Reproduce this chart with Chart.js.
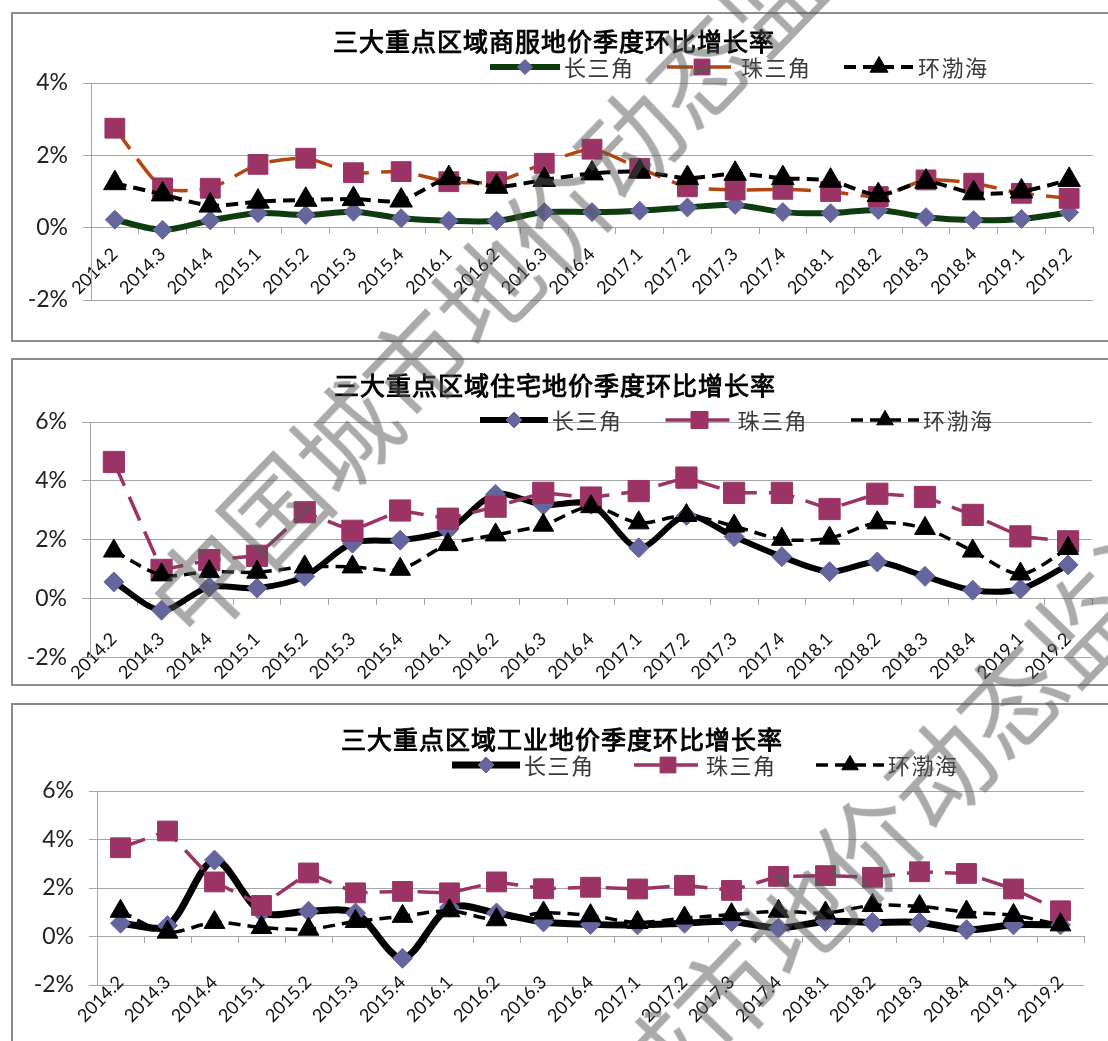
<!DOCTYPE html>
<html>
<head>
<meta charset="utf-8">
<script src="https://cdn.jsdelivr.net/npm/chart.js@4/dist/chart.umd.min.js"></script>
<style>
  html, body { margin: 0; padding: 0; background: #fff; }
  body { position: relative; width: 1108px; height: 1041px; overflow: hidden; }
  .frame { position: absolute; left: 11px; width: 1120px; box-sizing: border-box; border: 2px solid #8c8c8c; background: #fff; }
  canvas { position: absolute; left: 0; }
  .wm { position: absolute; transform-origin: 0 50%; transform: rotate(-46deg);
        font-family: "Noto Sans CJK SC"; font-size: 102px; line-height: 102px; height: 102px;
        white-space: nowrap; color: rgba(85, 85, 85, 0.5); pointer-events: none; }
</style>
</head>
<body>
<div class="frame" style="top:12px;height:330px"></div>
<div class="frame" style="top:358px;height:328px"></div>
<div class="frame" style="top:703px;height:400px"></div>
<canvas id="cCommercial" width="1108" height="330" style="top:12px"></canvas>
<canvas id="cResidential" width="1108" height="328" style="top:358px"></canvas>
<canvas id="cIndustrial" width="1108" height="338" style="top:703px"></canvas>
<div class="wm" style="left:165px;top:566px">中国城市地价动态监测</div>
<div class="wm" style="left:476px;top:1196px">中国城市地价动态监测</div>
<script>
// Quarters on the category axis
const quarters = ['2014.2','2014.3','2014.4','2015.1','2015.2','2015.3','2015.4',
  '2016.1','2016.2','2016.3','2016.4','2017.1','2017.2','2017.3','2017.4',
  '2018.1','2018.2','2018.3','2018.4','2019.1','2019.2'];
const regionNames = ['长三角', '珠三角', '环渤海'];

// 商服 (commercial) quarter-on-quarter growth, %
const commercialYRD   = [0.22,-0.06,0.20,0.40,0.35,0.44,0.26,0.19,0.19,0.43,0.43,0.47,0.56,0.63,0.43,0.40,0.49,0.29,0.21,0.24,0.42];
const commercialPRD   = [2.75,1.10,1.09,1.75,1.92,1.52,1.55,1.27,1.27,1.78,2.17,1.64,1.13,1.04,1.06,1.00,0.86,1.32,1.23,0.95,0.81];
const commercialBohai = [1.23,0.92,0.61,0.72,0.77,0.79,0.75,1.37,1.13,1.32,1.50,1.55,1.37,1.49,1.37,1.30,0.90,1.27,0.95,1.00,1.32];

// 住宅 (residential)
const residentialYRD   = [0.56,-0.40,0.39,0.35,0.75,1.88,1.98,2.32,3.54,3.18,3.20,1.72,2.82,2.10,1.42,0.91,1.24,0.75,0.28,0.32,1.14];
const residentialPRD   = [4.64,0.97,1.30,1.45,2.93,2.30,2.99,2.71,3.12,3.59,3.43,3.65,4.11,3.59,3.59,3.04,3.56,3.45,2.84,2.11,1.94];
const residentialBohai = [1.61,0.80,0.91,0.89,1.07,1.07,0.99,1.83,2.16,2.49,3.12,2.57,2.82,2.46,2.01,2.05,2.57,2.38,1.61,0.83,1.70];

// 工业 (industrial)
const industrialYRD   = [0.55,0.45,3.15,1.00,1.04,0.97,-0.90,1.20,0.97,0.60,0.50,0.48,0.55,0.62,0.35,0.62,0.58,0.58,0.28,0.48,0.48];
const industrialPRD   = [3.66,4.35,2.25,1.28,2.62,1.80,1.86,1.80,2.25,1.97,2.03,1.96,2.11,1.90,2.48,2.51,2.44,2.67,2.60,1.96,1.06];
const industrialBohai = [1.04,0.18,0.58,0.37,0.30,0.62,0.83,1.06,0.69,0.97,0.86,0.58,0.76,0.90,1.04,0.97,1.28,1.24,1.01,0.87,0.48];

// Value-axis ticks (%)
const commercialTicks = [-2, 0, 2, 4];
const landTicks = [-2, 0, 2, 4, 6];

const GRID = '#a6a6a6';
const SQUARE_FILL = '#9b3465';
const DIAMOND_FILL = '#66669f';

// Title and series key drawn inside each panel
const panelText = {
  id: 'panelText',
  afterDraw(chart, args, o) {
    const ctx = chart.ctx;
    ctx.save();
    ctx.fillStyle = '#000';
    ctx.strokeStyle = '#000';
    ctx.lineWidth = 0.9;
    ctx.font = '25px "Noto Sans CJK SC"';
    ctx.textAlign = 'center';
    ctx.textBaseline = 'middle';
    ctx.letterSpacing = '1px';
    ctx.fillText(o.title, o.titleX, o.titleY);
    ctx.strokeText(o.title, o.titleX, o.titleY);
    ctx.font = '22px "Noto Sans CJK SC"';
    ctx.letterSpacing = '1.5px';
    chart.data.datasets.forEach((ds, i) => {
      const x0 = o.keyX + i * o.keyPitch;
      const y = o.keyY;
      ctx.save();
      ctx.strokeStyle = ds.borderColor;
      ctx.lineWidth = ds.borderWidth;
      ctx.lineCap = ds.borderCapStyle || 'butt';
      ctx.setLineDash(ds.borderDash || []);
      ctx.beginPath();
      ctx.moveTo(x0, y);
      ctx.lineTo(x0 + o.keyLen, y);
      ctx.stroke();
      ctx.setLineDash([]);
      ctx.fillStyle = ds.pointBackgroundColor;
      ctx.strokeStyle = ds.pointBorderColor;
      ctx.lineWidth = 1;
      Chart.helpers.drawPoint(ctx, {
        pointStyle: ds.pointStyle, radius: ds.pointRadius * 0.8, rotation: 0, borderWidth: 1
      }, x0 + o.keyLen / 2, y);
      ctx.restore();
      ctx.fillStyle = '#3a3a3a';
      ctx.textAlign = 'left';
      ctx.fillText(ds.label, x0 + o.keyLen + 4, y + 1);
    });
    ctx.restore();
  }
};

function makeSeries(values, style) {
  return Object.assign({
    data: values,
    fill: false,
    pointBorderWidth: 1,
    pointHoverRadius: 0
  }, style);
}

function buildChart(id, cfg) {
  return new Chart(document.getElementById(id), {
    type: 'line',
    data: {
      labels: quarters,
      datasets: [
        makeSeries(cfg.yrd, Object.assign({ label: regionNames[0], order: 3 }, cfg.yrdStyle)),
        makeSeries(cfg.prd, Object.assign({ label: regionNames[1], order: 2 }, cfg.prdStyle)),
        makeSeries(cfg.bohai, Object.assign({ label: regionNames[2], order: 1 }, cfg.bohaiStyle))
      ]
    },
    options: {
      responsive: false,
      animation: false,
      events: [],
      layout: { padding: { top: cfg.plotTop, bottom: cfg.plotBottom, left: 0, right: cfg.plotRight } },
      plugins: {
        legend: { display: false },
        tooltip: { enabled: false },
        title: { display: false },
        panelText: cfg.text
      },
      scales: {
        x: {
          type: 'category',
          position: { y: 0 },
          offset: true,
          grid: { offset: true, drawOnChartArea: false, drawTicks: true, tickLength: 6, color: GRID, lineWidth: 1 },
          border: { display: true, color: GRID, width: 1 },
          ticks: {
            autoSkip: false, maxRotation: 45, minRotation: 45, padding: cfg.labelPad,
            color: '#111', font: { family: 'Lato', size: 18 }
          }
        },
        y: {
          position: 'left',
          min: cfg.ticks[0],
          max: cfg.ticks[cfg.ticks.length - 1],
          afterBuildTicks(scale) { scale.ticks = cfg.ticks.map(v => ({ value: v })); },
          afterFit(scale) { scale.width = cfg.plotLeft; },
          grid: { color: GRID, lineWidth: 1, tickLength: 8 },
          border: { display: true, color: GRID, width: 1 },
          ticks: {
            padding: 15, color: '#222', font: { family: 'Lato', size: 23 },
            callback: v => v + '%'
          }
        }
      }
    },
    plugins: [panelText]
  });
}

buildChart('cCommercial', {
  yrd: commercialYRD, prd: commercialPRD, bohai: commercialBohai, ticks: commercialTicks,
  plotLeft: 91, plotRight: 6, plotTop: 71, plotBottom: 42, labelPad: 10,
  text: { title: '三大重点区域商服地价季度环比增长率', titleX: 554, titleY: 29,
          keyX: 490, keyY: 55, keyPitch: 177, keyLen: 70 },
  yrdStyle: { borderColor: '#0d3d0d', borderWidth: 6, tension: 0.3, pointStyle: 'rectRot', pointRadius: 9.5,
              pointBackgroundColor: DIAMOND_FILL, pointBorderColor: DIAMOND_FILL },
  prdStyle: { borderColor: '#b3470f', borderWidth: 3.5, borderDash: [26, 12], tension: 0.2, pointStyle: 'rect', pointRadius: 14,
              pointBackgroundColor: SQUARE_FILL, pointBorderColor: SQUARE_FILL },
  bohaiStyle: { borderColor: '#000', borderWidth: 4, borderDash: [12, 7], tension: 0.25, pointStyle: 'triangle', pointRadius: 13,
                pointBackgroundColor: '#000', pointBorderColor: '#000' }
});

buildChart('cResidential', {
  yrd: residentialYRD, prd: residentialPRD, bohai: residentialBohai, ticks: landTicks,
  plotLeft: 90, plotRight: 14, plotTop: 64, plotBottom: 22, labelPad: 24,
  text: { title: '三大重点区域住宅地价季度环比增长率', titleX: 555, titleY: 27,
          keyX: 480, keyY: 62, keyPitch: 185.5, keyLen: 68 },
  yrdStyle: { borderColor: '#000', borderWidth: 6, tension: 0.3, pointStyle: 'rectRot', pointRadius: 10,
              pointBackgroundColor: DIAMOND_FILL, pointBorderColor: DIAMOND_FILL },
  prdStyle: { borderColor: SQUARE_FILL, borderWidth: 3.5, borderDash: [26, 12], tension: 0, pointStyle: 'rect', pointRadius: 15,
              pointBackgroundColor: SQUARE_FILL, pointBorderColor: SQUARE_FILL },
  bohaiStyle: { borderColor: '#000', borderWidth: 3.5, borderDash: [12, 7], tension: 0.3, pointStyle: 'triangle', pointRadius: 12,
                pointBackgroundColor: '#000', pointBorderColor: '#000' }
});

buildChart('cIndustrial', {
  yrd: industrialYRD, prd: industrialPRD, bohai: industrialBohai, ticks: landTicks,
  plotLeft: 97, plotRight: 24, plotTop: 88, plotBottom: 56, labelPad: 29,
  text: { title: '三大重点区域工业地价季度环比增长率', titleX: 562, titleY: 36,
          keyX: 452, keyY: 62, keyPitch: 182, keyLen: 68 },
  yrdStyle: { borderColor: '#000', borderWidth: 7, tension: 0.3, pointStyle: 'rectRot', pointRadius: 10,
              pointBackgroundColor: DIAMOND_FILL, pointBorderColor: DIAMOND_FILL },
  prdStyle: { borderColor: SQUARE_FILL, borderWidth: 3.5, borderDash: [26, 12], tension: 0, pointStyle: 'rect', pointRadius: 14,
              pointBackgroundColor: SQUARE_FILL, pointBorderColor: SQUARE_FILL },
  bohaiStyle: { borderColor: '#000', borderWidth: 3.5, borderDash: [12, 7], tension: 0.3, pointStyle: 'triangle', pointRadius: 12,
                pointBackgroundColor: '#000', pointBorderColor: '#000' }
});
</script>
</body>
</html>
